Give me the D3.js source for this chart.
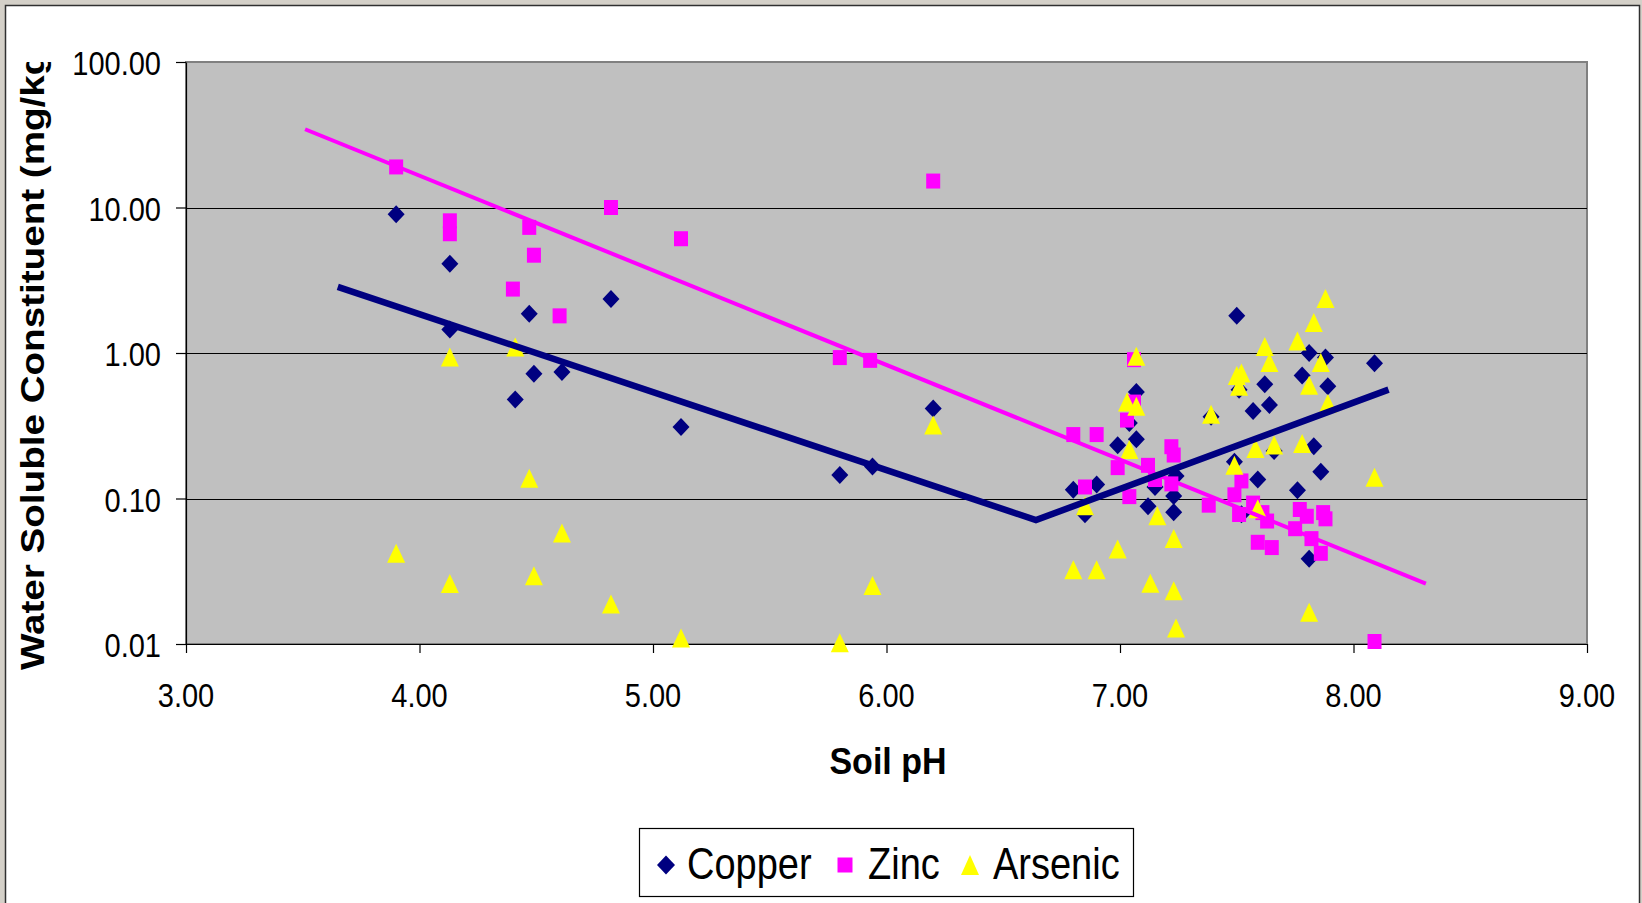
<!DOCTYPE html>
<html>
<head>
<meta charset="utf-8">
<script src="https://cdn.jsdelivr.net/npm/d3@7"></script>
<style>
  body { margin: 0; background: #d4d0c8; }
  svg { display: block; font-family: Arial, "Liberation Sans", sans-serif; }
</style>
</head>
<body>
<svg id="chart" width="1642" height="903"></svg>
<script>
// [soil pH, mg/kg]
var copper = [
  [3.90, 9.0], [4.13, 4.1], [4.13, 1.45], [4.41, 0.48], [4.47, 1.86], [4.49, 0.72],
  [4.61, 0.74], [4.82, 2.35], [5.12, 0.31], [5.80, 0.145], [5.94, 0.166], [6.20, 0.416],
  [6.80, 0.115], [6.85, 0.078], [6.90, 0.125], [6.99, 0.232], [7.04, 0.33], [7.07, 0.54],
  [7.07, 0.255], [7.12, 0.0885], [7.15, 0.12], [7.24, 0.143], [7.23, 0.104], [7.23, 0.0805],
  [7.39, 0.365], [7.50, 1.80], [7.51, 0.56], [7.49, 0.179], [7.52, 0.078], [7.57, 0.40],
  [7.59, 0.135], [7.62, 0.61], [7.64, 0.44], [7.66, 0.212], [7.76, 0.114], [7.78, 0.70],
  [7.81, 1.0], [7.83, 0.229], [7.86, 0.153], [7.88, 0.93], [7.89, 0.59], [7.81, 0.0385],
  [8.09, 0.85]
];
var zinc = [
  [3.90, 19.0], [4.13, 8.1], [4.13, 6.6], [4.47, 7.3], [4.49, 4.7], [4.40, 2.75],
  [4.60, 1.80], [4.82, 10.0], [5.12, 6.1], [5.80, 0.93], [5.93, 0.89], [6.20, 15.2],
  [7.06, 0.90], [7.06, 0.46], [7.03, 0.346], [6.80, 0.275], [6.90, 0.275], [6.99, 0.163],
  [7.12, 0.169], [7.22, 0.227], [7.23, 0.199], [7.15, 0.135], [7.22, 0.126], [6.85, 0.12],
  [7.04, 0.103], [7.38, 0.090], [7.52, 0.132], [7.49, 0.106], [7.51, 0.0776], [7.57, 0.093],
  [7.61, 0.080], [7.63, 0.070], [7.59, 0.050], [7.65, 0.046], [7.77, 0.084], [7.80, 0.0755],
  [7.75, 0.062], [7.87, 0.080], [7.88, 0.0725], [7.82, 0.053], [7.86, 0.042], [8.09, 0.0104]
];
var arsenic = [
  [3.90, 0.042], [4.13, 0.94], [4.13, 0.026], [4.41, 1.10], [4.47, 0.138], [4.49, 0.0295],
  [4.61, 0.058], [4.82, 0.0188], [5.12, 0.011], [5.80, 0.0102], [5.94, 0.0252], [6.20, 0.32],
  [6.80, 0.0324], [6.85, 0.089], [6.90, 0.0324], [6.99, 0.045], [7.03, 0.46], [7.04, 0.217],
  [7.07, 0.95], [7.07, 0.43], [7.13, 0.0262], [7.16, 0.076], [7.23, 0.053], [7.23, 0.0232],
  [7.24, 0.0129], [7.39, 0.38], [7.49, 0.169], [7.50, 0.70], [7.52, 0.73], [7.51, 0.59],
  [7.58, 0.221], [7.59, 0.085], [7.62, 1.11], [7.64, 0.86], [7.66, 0.233], [7.76, 1.21],
  [7.78, 0.239], [7.81, 0.60], [7.81, 0.0165], [7.83, 1.62], [7.86, 0.86], [7.88, 2.37],
  [7.89, 0.45], [8.09, 0.14]
];
// trend lines (copper is a two piece fit)
var copperTrend = [[3.65, 2.85], [6.64, 0.0711], [8.15, 0.56]];
var zincTrend = [[3.51, 34.5], [8.31, 0.026]];

var xTicks = [3, 4, 5, 6, 7, 8, 9];
var yTicks = [0.01, 0.1, 1, 10, 100];
var seriesNames = ['Copper', 'Zinc', 'Arsenic'];
var seriesColors = ['#000080', '#ff00ff', '#ffff00'];

var svg = d3.select('#chart');

// outer frame
svg.append('rect')
  .attr('x', 5.5).attr('y', 5.5)
  .attr('width', 1634).attr('height', 912)
  .attr('fill', '#fff').attr('stroke', '#303030').attr('stroke-width', 1.5);

var plot = { left: 186, right: 1587, top: 62, bottom: 644 };
var x = d3.scaleLinear().domain([3, 9]).range([plot.left, plot.right]);
var y = d3.scaleLog().domain([0.01, 100]).range([plot.bottom, plot.top]);

svg.append('rect')
  .attr('x', plot.left).attr('y', plot.top)
  .attr('width', plot.right - plot.left).attr('height', plot.bottom - plot.top)
  .attr('fill', '#c0c0c0').attr('stroke', '#808080').attr('stroke-width', 2);

// gridlines
svg.append('g').selectAll('line')
  .data(yTicks.slice(1, -1))
  .enter().append('line')
  .attr('x1', plot.left).attr('x2', plot.right)
  .attr('y1', function (d) { return Math.round(y(d)) + 0.5; })
  .attr('y2', function (d) { return Math.round(y(d)) + 0.5; })
  .attr('stroke', '#000').attr('stroke-width', 1);

// axes (lines + ticks only, labels drawn below)
var yAxis = svg.append('g')
  .attr('transform', 'translate(' + plot.left + ',0)')
  .call(d3.axisLeft(y).tickValues(yTicks).tickSize(10).tickSizeOuter(0).tickFormat(''));
var xAxis = svg.append('g')
  .attr('transform', 'translate(0,' + plot.bottom + ')')
  .call(d3.axisBottom(x).tickValues(xTicks).tickSize(9).tickSizeOuter(0).tickFormat(''));
[yAxis, xAxis].forEach(function (g) {
  g.selectAll('path, line').attr('stroke', '#000').attr('stroke-width', 1.2);
});

var fmt = d3.format('.2f');
svg.append('g').selectAll('text')
  .data(yTicks)
  .enter().append('text')
  .attr('transform', function (d) { return 'translate(161,' + (y(d) + 13) + ') scale(1,1.13)'; })
  .attr('text-anchor', 'end')
  .style('font-size', '29px')
  .text(fmt);
svg.append('g').selectAll('text')
  .data(xTicks)
  .enter().append('text')
  .attr('transform', function (d) { return 'translate(' + x(d) + ',707) scale(1,1.13)'; })
  .attr('text-anchor', 'middle')
  .style('font-size', '29px')
  .text(fmt);

// axis titles
svg.append('text')
  .attr('transform', 'translate(888,774) scale(1,1.1)')
  .attr('text-anchor', 'middle')
  .style('font-size', '34px').style('font-weight', 'bold')
  .text('Soil pH');

svg.append('clipPath').attr('id', 'ytitle-clip')
  .append('rect').attr('x', 0).attr('y', 62).attr('width', 120).attr('height', 840);
svg.append('g').attr('clip-path', 'url(#ytitle-clip)')
  .append('text')
  .attr('transform', 'translate(44,670) rotate(-90) scale(1.17,1)')
  .style('font-size', '33px').style('font-weight', 'bold')
  .text('Water Soluble Constituent (mg/kg)');

// marker shapes
function diamond(w, h) {
  return 'M0,' + (-h / 2) + 'L' + (w / 2) + ',0L0,' + (h / 2) + 'L' + (-w / 2) + ',0Z';
}
function square(w, h) {
  return 'M' + (-w / 2) + ',' + (-h / 2) + 'h' + w + 'v' + h + 'h' + (-w) + 'Z';
}
function triangle(w, h) {
  return 'M0,' + (-h / 2) + 'L' + (w / 2) + ',' + (h / 2) + 'L' + (-w / 2) + ',' + (h / 2) + 'Z';
}
var shapes = [diamond(17, 18), square(14, 15), triangle(18, 19)];

[copper, zinc, arsenic].forEach(function (series, i) {
  svg.append('g').selectAll('path')
    .data(series)
    .enter().append('path')
    .attr('transform', function (d) { return 'translate(' + x(d[0]) + ',' + y(d[1]) + ')'; })
    .attr('d', shapes[i])
    .attr('fill', seriesColors[i]);
});

var line = d3.line()
  .x(function (d) { return x(d[0]); })
  .y(function (d) { return y(d[1]); });
svg.append('path').datum(zincTrend)
  .attr('d', line).attr('fill', 'none')
  .attr('stroke', '#ff00ff').attr('stroke-width', 4);
svg.append('path').datum(copperTrend)
  .attr('d', line).attr('fill', 'none')
  .attr('stroke', '#000080').attr('stroke-width', 6.5);

// legend
var legend = svg.append('g');
legend.append('rect')
  .attr('x', 639.5).attr('y', 828.5).attr('width', 494).attr('height', 68)
  .attr('fill', '#fff').attr('stroke', '#000').attr('stroke-width', 1.2);
var legendMarkX = [666, 845, 970];
var legendTextX = [687, 868, 993];
var legendShapes = [diamond(18, 19), square(15, 15), triangle(18, 20)];
seriesNames.forEach(function (name, i) {
  legend.append('path')
    .attr('transform', 'translate(' + legendMarkX[i] + ',865)')
    .attr('d', legendShapes[i])
    .attr('fill', seriesColors[i]);
  legend.append('text')
    .attr('transform', 'translate(' + legendTextX[i] + ',879) scale(1,1.16)')
    .style('font-size', '38px')
    .text(name);
});
</script>
</body>
</html>
